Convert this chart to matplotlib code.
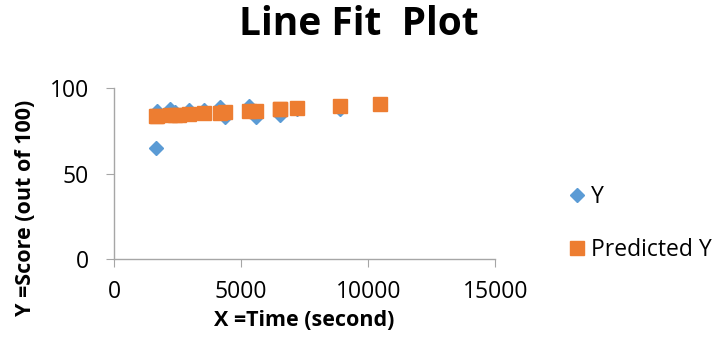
import matplotlib
matplotlib.use("Agg")
import matplotlib.pyplot as plt

plt.rcParams["font.family"] = ["Open Sans", "DejaVu Sans"]

time_s = [1640, 1705, 2178, 2400, 2560, 2925, 3543, 4173, 4370,
          5288, 5590, 6535, 6535, 7205, 8900, 10470]
score = [65.0, 86.5, 87.5, 86.0, 84.0, 86.9, 86.9, 89.0, 83.0,
         89.2, 83.3, 87.5, 84.4, 88.0, 87.8, 90.4]
predicted = [83.5, 83.6, 84.0, 84.2, 84.3, 84.6, 85.1, 85.6, 85.8,
             86.5, 86.8, 87.6, 87.6, 88.1, 89.5, 90.8]

x_ticks = [0, 5000, 10000, 15000]
y_ticks = [0, 50, 100]

BLUE = "#5B9BD5"
ORANGE = "#ED7D31"
AXIS = "#A6A6A6"

fig = plt.figure(figsize=(7.18, 3.52), dpi=100)
ax = fig.add_axes([0.159, 0.264, 0.531, 0.486])

ax.plot(time_s, score, linestyle="none", marker="D", ms=7.4,
        color=BLUE, label="Y")
ax.plot(time_s, predicted, linestyle="none", marker="s", ms=10,
        color=ORANGE, label="Predicted Y")

ax.set_xlim(0, 15000)
ax.set_ylim(0, 100)
ax.set_xticks(x_ticks)
ax.set_yticks(y_ticks)
ax.tick_params(labelsize=16.5, length=6, color=AXIS)
ax.tick_params(axis="x", pad=9)
ax.tick_params(axis="y", pad=12)
for side in ("top", "right"):
    ax.spines[side].set_visible(False)
for side in ("left", "bottom"):
    ax.spines[side].set_color(AXIS)
    ax.spines[side].set_linewidth(1.0)

fig.text(0.5, 0.90, "Line Fit  Plot", ha="center", va="baseline",
         fontsize=28, fontweight="bold")
fig.text(0.423, 0.074, "X =Time (second)", ha="center", va="baseline",
         fontsize=15.5, fontweight="bold")
fig.text(0.035, 0.41, "Y =Score (out of 100)", ha="center", va="center",
         rotation=90, fontsize=15.5, fontweight="bold")

fig.legend(loc="center left", bbox_to_anchor=(0.775, 0.365), frameon=False,
           fontsize=16.5, labelspacing=1.25, handletextpad=0.1,
           handlelength=1.0, borderaxespad=0)

fig.savefig("out.png", dpi=100)
